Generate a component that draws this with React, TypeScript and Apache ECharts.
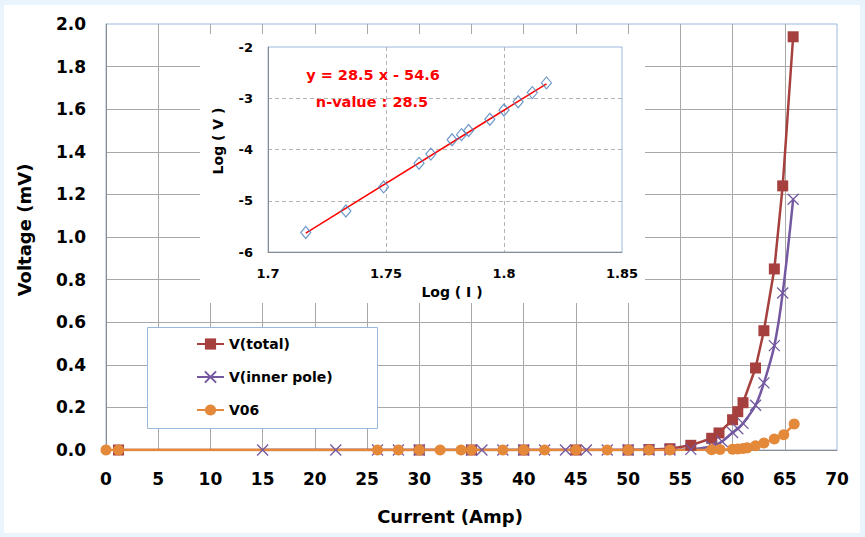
import React, { useEffect, useRef } from "react";
import * as echarts from "echarts";

// Main chart: current (A) vs voltage (mV)
const totalX = [1.2, 30, 35, 40, 45, 50, 52, 54, 56, 58, 58.7, 60, 60.5, 61, 62.2, 63, 64, 64.8, 65.8];
const totalY = [0, 0, 0, 0, 0, 0, 0.002, 0.006, 0.022, 0.055, 0.08, 0.142, 0.18, 0.222, 0.385, 0.56, 0.85, 1.24, 1.94];

const innerX = [15, 22, 26, 28, 30, 35, 36, 38, 40, 42, 44, 46, 48, 50, 52, 54, 56, 58, 59, 60, 60.5, 61, 62.2, 63, 64, 64.8, 65.8];
const innerY = [0, 0, 0, 0, 0, 0, 0, 0, 0, 0, 0, 0, 0, 0, 0, 0, 0.003, 0.018, 0.04, 0.082, 0.1, 0.125, 0.21, 0.315, 0.49, 0.737, 1.177];

const v06X = [0, 1.2, 26, 28, 30, 32, 34, 35, 38, 40, 42, 45, 48, 50, 52, 54, 58, 58.8, 60, 60.5, 61, 61.4, 62.2, 63, 64, 64.9, 65.9];
const v06Y = [0, 0, 0, 0, 0, 0, 0, 0, 0, 0, 0, 0, 0, 0, 0, 0, 0.001, 0.002, 0.004, 0.005, 0.007, 0.01, 0.02, 0.033, 0.052, 0.072, 0.122];

// Inset: log-log
const logI = [1.716, 1.733, 1.749, 1.764, 1.769, 1.778, 1.782, 1.785, 1.794, 1.8, 1.806, 1.812, 1.818];
const logV = [-5.62, -5.2, -4.73, -4.27, -4.09, -3.81, -3.71, -3.63, -3.41, -3.23, -3.07, -2.89, -2.7];
const fitX = [1.716, 1.818];
const fitY = [-5.63, -2.72];

const seriesNames = ["V(total)", "V(inner pole)", "V06"];
const eqText = "y = 28.5 x - 54.6";
const nText = "n-value : 28.5";

const zip = (xs: number[], ys: number[]) => xs.map((x, i) => [x, ys[i]]);

const RED = "#a5403e";
const PURPLE = "#7459a1";
const ORANGE = "#e4893a";
const BLUE_BORDER = "#9ab8dc";
const GRID = "#a8a8a8";
const AXIS = "#8c8c8c";
const FONT = "DejaVu Sans";

export default function App() {
  const ref = useRef<HTMLDivElement>(null);
  useEffect(() => {
    const chart = echarts.init(ref.current!, null, { renderer: "svg" });
    const option: any = {
      animation: false,
      backgroundColor: "#e9f4fd",
      legend: {
        data: seriesNames,
        orient: "vertical",
        left: 196,
        top: 337,
        itemWidth: 27,
        itemHeight: 14,
        itemGap: 19,
        padding: 0,
        textStyle: { fontFamily: FONT, fontWeight: "bold", fontSize: 14, color: "#000" },
      },
      grid: [
        { left: 106, top: 24, width: 731, height: 426, show: true, borderColor: BLUE_BORDER, borderWidth: 1, backgroundColor: "transparent" },
        { left: 268, top: 47, width: 354, height: 205, show: true, borderColor: BLUE_BORDER, borderWidth: 1, backgroundColor: "transparent", z: 3 },
      ],
      xAxis: [
        {
          type: "value", gridIndex: 0, min: 0, max: 70, interval: 5,
          axisLine: { show: true, lineStyle: { color: AXIS, width: 1 } },
          axisTick: { show: false },
          splitLine: { show: true, showMaxLine: false, lineStyle: { color: GRID, width: 1 } },
          axisLabel: { margin: 20, fontFamily: FONT, fontWeight: "bold", fontSize: 17, color: "#000" },
        },
        {
          type: "value", gridIndex: 1, min: 1.7, max: 1.85, interval: 0.05, z: 3,
          axisLine: { show: true, lineStyle: { color: AXIS, width: 1 } },
          axisTick: { show: false },
          splitLine: { show: true, showMinLine: false, showMaxLine: false, lineStyle: { color: "#b4b4b4", type: [4, 3], width: 1 } },
          axisLabel: { margin: 15, fontFamily: FONT, fontWeight: "bold", fontSize: 13, color: "#000", formatter: (v: number) => String(+v.toFixed(2)) },
        },
      ],
      yAxis: [
        {
          type: "value", gridIndex: 0, min: 0, max: 2, interval: 0.2,
          axisLine: { show: true, lineStyle: { color: AXIS, width: 1 } },
          axisTick: { show: false },
          splitLine: { show: true, showMaxLine: false, lineStyle: { color: GRID, width: 1 } },
          axisLabel: { margin: 20, fontFamily: FONT, fontWeight: "bold", fontSize: 17, color: "#000", formatter: (v: number) => v.toFixed(1) },
        },
        {
          type: "value", gridIndex: 1, min: -6, max: -2, interval: 1, z: 3,
          axisLine: { show: true, lineStyle: { color: AXIS, width: 1 } },
          axisTick: { show: false },
          splitLine: { show: true, showMinLine: false, showMaxLine: false, lineStyle: { color: "#b4b4b4", type: [4, 3], width: 1 } },
          axisLabel: { margin: 15, fontFamily: FONT, fontWeight: "bold", fontSize: 13, color: "#000" },
        },
      ],
      series: [
        {
          name: seriesNames[0], type: "line", xAxisIndex: 0, yAxisIndex: 0, z: 2,
          data: zip(totalX, totalY),
          symbol: "rect", symbolSize: 11,
          itemStyle: { color: RED, borderWidth: 0 },
          lineStyle: { color: RED, width: 2.5 },
        },
        {
          name: seriesNames[1], type: "line", xAxisIndex: 0, yAxisIndex: 0, z: 2,
          data: zip(innerX, innerY),
          smooth: 0.35,
          symbol: "path://M0,0L10,10M10,0L0,10", symbolSize: 11,
          itemStyle: { color: PURPLE, borderColor: PURPLE, borderWidth: 1.3 },
          lineStyle: { color: PURPLE, width: 2.5 },
        },
        {
          name: seriesNames[2], type: "line", xAxisIndex: 0, yAxisIndex: 0, z: 2,
          data: zip(v06X, v06Y),
          symbol: "circle", symbolSize: 11,
          itemStyle: { color: ORANGE, borderWidth: 0 },
          lineStyle: { color: ORANGE, width: 2.5 },
        },
        {
          name: "fit", type: "line", xAxisIndex: 1, yAxisIndex: 1, z: 5,
          data: zip(fitX, fitY), showSymbol: false, symbol: "none",
          lineStyle: { color: "#ff0000", width: 1.5 },
        },
        {
          name: "log", type: "scatter", xAxisIndex: 1, yAxisIndex: 1, z: 6,
          data: zip(logI, logV), symbol: "diamond", symbolSize: [10, 12],
          itemStyle: { color: "rgba(255,255,255,0)", borderColor: "#4a7ebb", borderWidth: 1.2 },
        },
      ],
      graphic: [
        { type: "rect", z: -10, shape: { x: 4, y: 5, width: 856, height: 528 }, style: { fill: "#ffffff" } },
        { type: "rect", z: 1, shape: { x: 200, y: 34, width: 445, height: 269 }, style: { fill: "#ffffff" } },
        { type: "rect", z: 1, shape: { x: 147.5, y: 327.5, width: 230, height: 101 }, style: { fill: "#ffffff", stroke: BLUE_BORDER, lineWidth: 1 } },
        { type: "text", z: 10, x: 373, y: 75, style: { text: eqText, fill: "#ff0000", font: `bold 14.5px "${FONT}"`, textAlign: "center", textVerticalAlign: "middle" } },
        { type: "text", z: 10, x: 372, y: 102, style: { text: nText, fill: "#ff0000", font: `bold 14.5px "${FONT}"`, textAlign: "center", textVerticalAlign: "middle" } },
        { type: "text", z: 10, x: 452, y: 292, style: { text: "Log ( I )", fill: "#000", font: `bold 14px "${FONT}"`, textAlign: "center", textVerticalAlign: "middle" } },
        { type: "text", z: 10, x: 218, y: 141, rotation: Math.PI / 2, style: { text: "Log ( V )", fill: "#000", font: `bold 14px "${FONT}"`, textAlign: "center", textVerticalAlign: "middle" } },
        { type: "text", z: 10, x: 450, y: 516, style: { text: "Current (Amp)", fill: "#000", font: `bold 18px "${FONT}"`, textAlign: "center", textVerticalAlign: "middle" } },
        { type: "text", z: 10, x: 24, y: 230, rotation: Math.PI / 2, style: { text: "Voltage (mV)", fill: "#000", font: `bold 18px "${FONT}"`, textAlign: "center", textVerticalAlign: "middle" } },
      ],
    };
    chart.setOption(option);
    return () => chart.dispose();
  }, []);
  return <div ref={ref} style={{ position: "absolute", left: 0, top: 0, width: 865, height: 537 }} />;
}
